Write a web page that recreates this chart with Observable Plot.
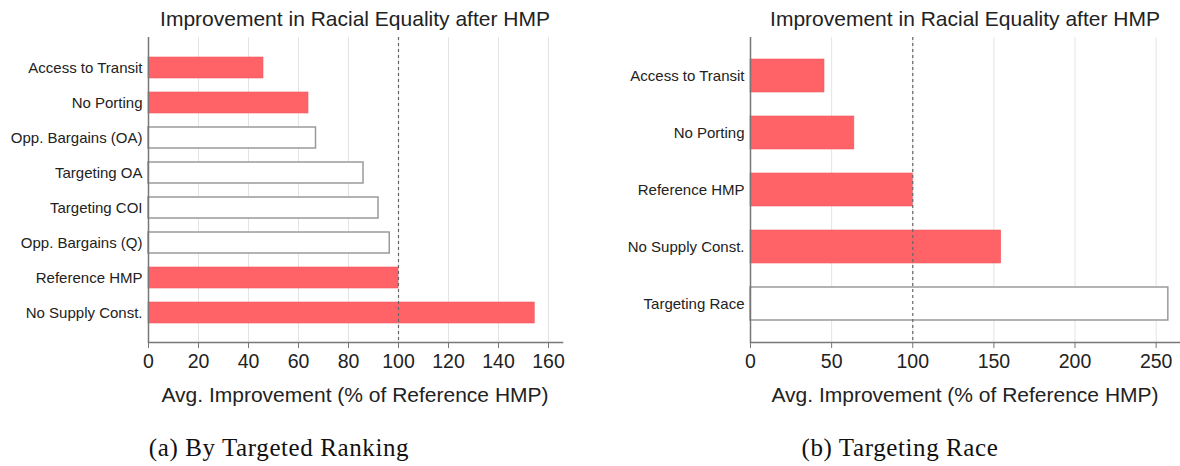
<!DOCTYPE html>
<html>
<head>
<meta charset="utf-8">
<script src="https://cdn.jsdelivr.net/npm/d3@7"></script>
<script src="https://cdn.jsdelivr.net/npm/@observablehq/plot@0.6"></script>
<style>
  html, body { margin: 0; padding: 0; background: #fff; }
  #wrap { position: relative; width: 1180px; height: 466px; overflow: hidden; background: #fff; font-family: "Liberation Sans", Arial, sans-serif; color: #222; }
  .abs { position: absolute; }
  .title, .xtitle { font-size: 21px; line-height: 21px; text-align: center; white-space: nowrap; color: #222; }
  .caption { font-family: "Liberation Serif", "Times New Roman", serif; font-size: 25px; line-height: 25px; letter-spacing: 0.6px; text-align: center; white-space: nowrap; color: #111; }
  g[aria-label="y-axis tick label"] { font-size: 15px; }
</style>
</head>
<body>
<div id="wrap"></div>
<script>
// ---- Data ----
const chartTitle = "Improvement in Racial Equality after HMP";
const xAxisTitle = "Avg. Improvement (% of Reference HMP)";

const leftNames = ["Access to Transit", "No Porting", "Opp. Bargains (OA)", "Targeting OA", "Targeting COI", "Opp. Bargains (Q)", "Reference HMP", "No Supply Const."];
const leftValues = [46, 64, 67, 86, 92, 96.5, 100, 154.5];
const leftHighlight = [true, true, false, false, false, false, true, true];
const leftTicks = [0, 20, 40, 60, 80, 100, 120, 140, 160];
const leftCaption = "(a) By Targeted Ranking";

const rightNames = ["Access to Transit", "No Porting", "Reference HMP", "No Supply Const.", "Targeting Race"];
const rightValues = [45.6, 64, 100, 154.5, 257.5];
const rightHighlight = [true, true, true, true, false];
const rightTicks = [0, 50, 100, 150, 200, 250];
const rightCaption = "(b) Targeting Race";

const referenceLine = [100];

// ---- Rendering ----
const wrap = document.getElementById("wrap");
const RED = "#ff6368";

function panel(opts) {
  const {names, values, highlight, ticks, xmax, left, marginLeft, marginRight, padIn, padOut, caption, captionCenter} = opts;
  const data = names.map((n, i) => ({name: n, value: values[i], hl: highlight[i]}));
  const width = 590;
  const plot = Plot.plot({
    width,
    height: 355,
    marginTop: 10,
    marginBottom: 40,
    marginLeft,
    marginRight,
    style: {fontFamily: "'Liberation Sans', Arial, sans-serif", color: "#222", background: "transparent", overflow: "visible"},
    x: {domain: [0, xmax]},
    y: {domain: names, paddingInner: padIn, paddingOuter: padOut},
    marks: [
      Plot.gridX(ticks.slice(1), {stroke: "#e4e4e4", strokeOpacity: 1, strokeWidth: 1}),
      Plot.barX(data.filter(d => d.hl), {x: "value", y: "name", fill: RED, stroke: "#ee5a60", strokeWidth: 0.6}),
      Plot.barX(data.filter(d => !d.hl), {x: "value", y: "name", fill: "white", stroke: "#9a9a9a", strokeWidth: 1.5}),
      Plot.ruleX(referenceLine, {stroke: "#666", strokeWidth: 1.2, strokeDasharray: "3,3"}),
      Plot.ruleX([0], {stroke: "#777", strokeWidth: 1.5}),
      Plot.frame({anchor: "bottom", stroke: "#777", strokeWidth: 1.5}),
      Plot.axisX({ticks, tickSize: 6, tickFormat: () => "", stroke: "#777", label: null}),
      Plot.text(ticks, {x: d => d, text: d => String(d), frameAnchor: "bottom", lineAnchor: "top", dy: 12, fontSize: 19.5, fill: "#222"}),
      Plot.axisY({tickSize: 0, tickPadding: 6, fontSize: 15, label: null})
    ]
  });
  plot.classList.add("abs");
  plot.style.left = left + "px";
  plot.style.top = "27px";
  wrap.appendChild(plot);

  const plotLeft = left + marginLeft;
  const plotW = width - marginLeft - marginRight;

  const t = document.createElement("div");
  t.className = "abs title";
  t.textContent = chartTitle;
  t.style.left = plotLeft + "px";
  t.style.width = plotW + "px";
  t.style.top = "8px";
  wrap.appendChild(t);

  const xt = document.createElement("div");
  xt.className = "abs xtitle";
  xt.textContent = xAxisTitle;
  xt.style.left = plotLeft + "px";
  xt.style.width = plotW + "px";
  xt.style.top = "384px";
  wrap.appendChild(xt);

  const c = document.createElement("div");
  c.className = "abs caption";
  c.textContent = caption;
  c.style.left = (captionCenter - 200) + "px";
  c.style.width = "400px";
  c.style.top = "435px";
  wrap.appendChild(c);
}

panel({names: leftNames, values: leftValues, highlight: leftHighlight, ticks: leftTicks, xmax: 165.6,
  left: 0, marginLeft: 148, marginRight: 28, padIn: 0.4, padOut: 0.5, caption: leftCaption, captionCenter: 279});
panel({names: rightNames, values: rightValues, highlight: rightHighlight, ticks: rightTicks, xmax: 265,
  left: 590, marginLeft: 160, marginRight: 0, padIn: 0.42, padOut: 0.38, caption: rightCaption, captionCenter: 900});
</script>
</body>
</html>
